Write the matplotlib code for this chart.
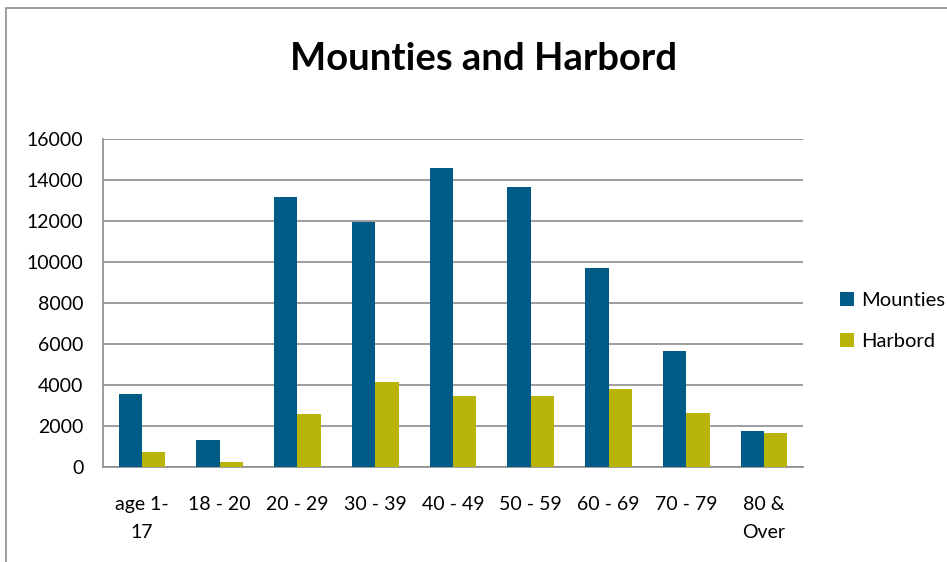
import matplotlib
matplotlib.use("Agg")
import matplotlib.pyplot as plt
import numpy as np
from matplotlib.patches import Rectangle

categories = ["age 1-\n17", "18 - 20", "20 - 29", "30 - 39", "40 - 49",
              "50 - 59", "60 - 69", "70 - 79", "80 &\nOver"]
mounties = [3560, 1320, 13180, 11960, 14600, 13670, 9720, 5660, 1760]
harbord = [730, 250, 2590, 4150, 3470, 3470, 3810, 2640, 1660]
yticks = [0, 2000, 4000, 6000, 8000, 10000, 12000, 14000, 16000]

plt.rcParams['font.family'] = ['Lato', 'DejaVu Sans']

W, H = 947, 562
fig = plt.figure(figsize=(W / 100, H / 100), dpi=100)
ax = fig.add_axes([103 / W, 1 - 467 / H, 700 / W, 328 / H])

x = np.arange(len(categories))
bw = 0.3
ax.bar(x - bw / 2, mounties, width=bw, color="#005B87", label="Mounties", zorder=3)
ax.bar(x + bw / 2, harbord, width=bw, color="#B8B409", label="Harbord", zorder=3)

ax.set_xlim(-0.5, len(categories) - 0.5)
ax.set_ylim(0, 16000)
ax.set_yticks(yticks)
ax.set_yticklabels([str(v) for v in yticks], fontsize=14)
ax.set_xticks(x)
ax.set_xticklabels(categories, fontsize=14, linespacing=1.8, va="top")
ax.tick_params(axis="both", length=0)
ax.tick_params(axis="y", pad=14)
ax.tick_params(axis="x", pad=21)
ax.grid(axis="y", color="#8C8C8C", linewidth=1.2, zorder=0)
for s in ["top", "right"]:
    ax.spines[s].set_visible(False)
for s in ["left", "bottom"]:
    ax.spines[s].set_color("#8C8C8C")
    ax.spines[s].set_linewidth(1.2)

fig.text(483.5 / W, 1 - 59 / H, "Mounties and Harbord", ha="center", va="center",
         fontsize=27.5, fontweight="bold", color="black")

leg = fig.legend(loc="center left", bbox_to_anchor=(822 / W, 1 - 321 / H),
                 frameon=False, fontsize=14.5, handlelength=0.7, handleheight=0.7,
                 handletextpad=0.35, labelspacing=1.15)

# outer chart border
fig.patches.append(Rectangle((5.5 / W, -0.1), 1.2, 1.1 - 7.5 / H,
                             transform=fig.transFigure, fill=False,
                             edgecolor="#8C8C8C", linewidth=1.2))

fig.savefig("out.png", dpi=100)
